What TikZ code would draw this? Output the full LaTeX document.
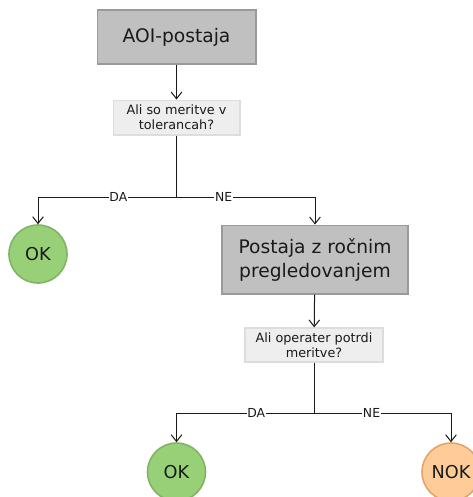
\documentclass[tikz,border=0pt]{standalone}
\usepackage{fontspec}
\setmainfont{DejaVu Sans}
\usetikzlibrary{arrows.meta}
\definecolor{boxgray}{HTML}{C0C0C0}
\definecolor{boxline}{HTML}{9A9A9A}
\definecolor{askfill}{HTML}{EEEEEE}
\definecolor{askline}{HTML}{DDDDDD}
\definecolor{okfill}{HTML}{97D077}
\definecolor{okline}{HTML}{82B366}
\definecolor{nokfill}{HTML}{FFCC99}
\definecolor{nokline}{HTML}{E3A468}
\definecolor{txt}{HTML}{1A1A1A}

\begin{document}
\begin{tikzpicture}[x=0.75pt,y=-0.75pt,
    station/.style={draw=boxline,fill=boxgray,line width=1pt,text=txt,align=center,inner sep=0pt},
    ask/.style={draw=askline,fill=askfill,line width=1pt,text=txt,align=center,inner sep=0pt,font=\fontsize{9.6}{11.5}\selectfont},
    okc/.style={circle,draw=okline,fill=okfill,line width=1.2pt,minimum size=43.5pt,inner sep=0pt,text=txt,font=\fontsize{13.3}{16}\selectfont},
    nokc/.style={circle,draw=nokline,fill=nokfill,line width=1.2pt,minimum size=43.5pt,inner sep=0pt,text=txt,font=\fontsize{13.3}{16}\selectfont},
    flow/.style={draw=txt,line width=0.75pt,-{Straight Barb[length=5pt,width=8pt]}},
    lbl/.style={fill=white,inner sep=0.5pt,text=txt,font=\fontsize{9.3}{11}\selectfont}]
  \useasboundingbox (0,0) rectangle (473,497);
  % first station
  \node[station,minimum width=119pt,minimum height=40.5pt,font=\fontsize{14}{17}\selectfont] (aoi) at (176.5,37) {AOI-postaja};
  \node[ask,minimum width=95pt,minimum height=26pt] (q1) at (176.5,117.5) {Ali so meritve v\\tolerancah?};
  \node[okc] (ok1) at (38,254) {OK};
  \node[station,minimum width=139.5pt,minimum height=51.5pt,font=\fontsize{14}{18}\selectfont] (rocni) at (315,259.5) {Postaja z ročnim\\pregledovanjem};
  % second question
  \node[ask,minimum width=103.5pt,minimum height=25.5pt] (q2) at (314,345) {Ali operater potrdi\\meritve?};
  \node[okc] (ok2) at (176.5,472) {OK};
  \node[nokc] (nok) at (451,472) {NOK};
  \coordinate (j1) at (176.5,197);
  \coordinate (j2) at (314,413);

  \draw[flow] (aoi) -- (q1);
  \draw[line width=0.75pt,draw=txt] (q1) -- (j1);
  \draw[flow] (j1) -| node[lbl,pos=0.21]{DA} (ok1);
  \draw[flow] (j1) -| node[lbl,pos=0.17]{NE} (rocni);
  \draw[flow] (rocni) -- (q2);
  \draw[line width=0.75pt,draw=txt] (q2) -- (j2);
  \draw[flow] (j2) -| node[lbl,pos=0.21]{DA} (ok2);
  \draw[flow] (j2) -| node[lbl,pos=0.21]{NE} (nok);
\end{tikzpicture}
\end{document}
